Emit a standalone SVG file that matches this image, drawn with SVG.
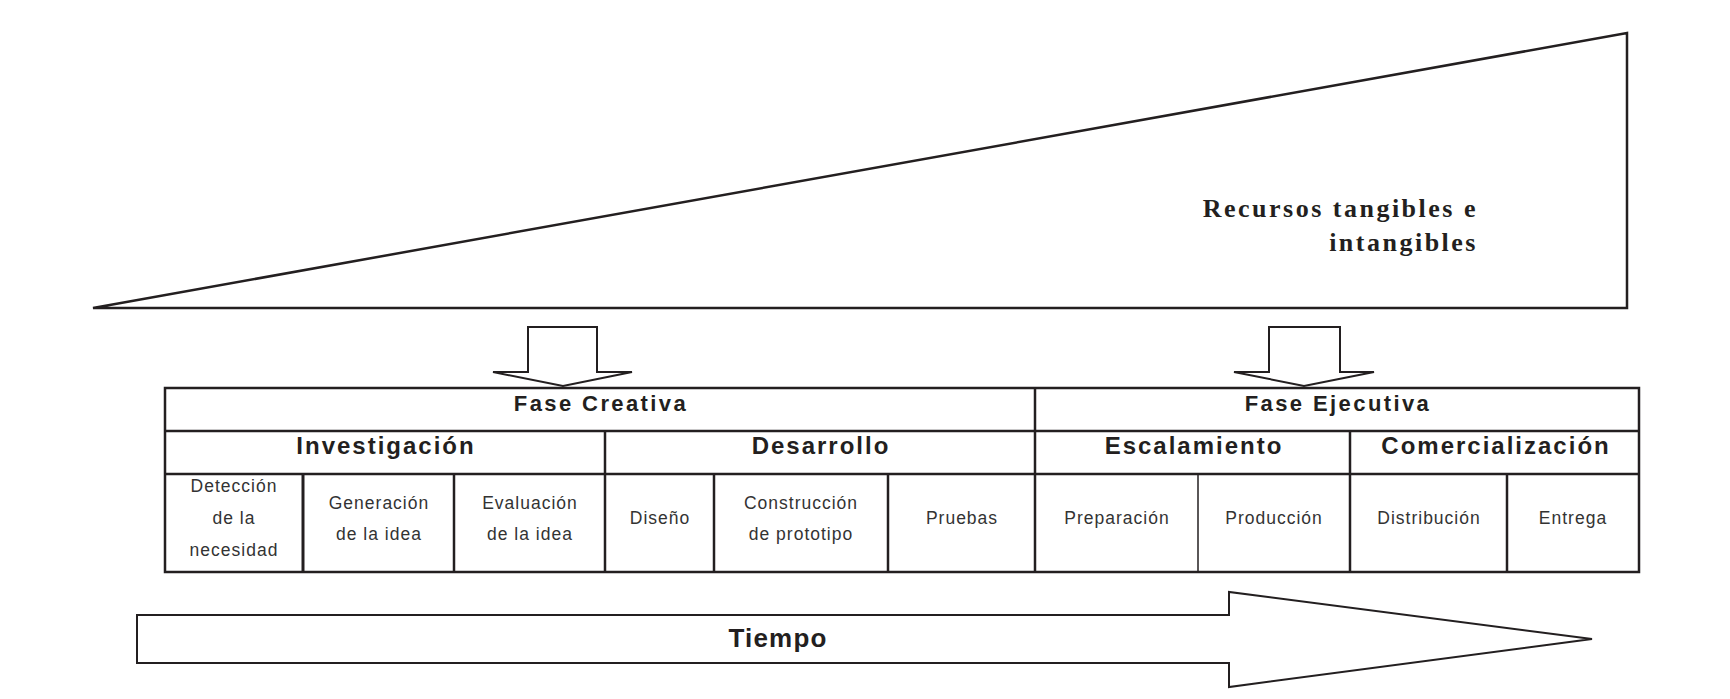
<svg xmlns="http://www.w3.org/2000/svg" width="1730" height="699" viewBox="0 0 1730 699">
<style>
.ln{fill:#fff;stroke:#231f20;stroke-width:2.5;stroke-linejoin:miter}
.ar{fill:#fff;stroke:#231f20;stroke-width:2}
.grid{stroke:#231f20;stroke-width:2.5;fill:none}
.res{font-family:"Liberation Serif",serif;font-weight:bold;font-size:26px;letter-spacing:2.5px;fill:#231f20;text-anchor:end}
.h1{font-family:"Liberation Sans",Arial,sans-serif;font-weight:bold;font-size:22px;letter-spacing:2.4px;fill:#231f20;text-anchor:middle}
.h2{font-family:"Liberation Sans",Arial,sans-serif;font-weight:bold;font-size:24px;letter-spacing:2px;fill:#231f20;text-anchor:middle}
.c{font-family:"Liberation Sans",Arial,sans-serif;font-size:17.5px;letter-spacing:1px;fill:#333;text-anchor:middle}
.t{font-family:"Liberation Sans",Arial,sans-serif;font-weight:bold;font-size:26px;letter-spacing:1.2px;fill:#231f20;text-anchor:middle}
</style>
<rect width="1730" height="699" fill="#fff"/>
<g id="recursos">
<polygon class="ln" points="93,308 1627,33 1627,308"/>
<text class="res" x="1478" y="217">Recursos tangibles e</text>
<text class="res" x="1478" y="251">intangibles</text>
</g>
<g id="connectors">
<polygon class="ar" points="528,327 597,327 597,372 632,372 563,386 493,372 528,372"/>
<polygon class="ar" points="1269,327 1340,327 1340,372 1374,372 1304,386 1234,372 1269,372"/>
</g>
<g id="tabla">
<rect class="grid" x="165" y="388" width="1474" height="184"/>
<line class="grid" x1="165" y1="431" x2="1639" y2="431"/>
<line class="grid" x1="165" y1="474" x2="1639" y2="474"/>
<line class="grid" x1="1035" y1="388" x2="1035" y2="572"/>
<line class="grid" x1="605" y1="431" x2="605" y2="572"/>
<line class="grid" x1="1350" y1="431" x2="1350" y2="572"/>
<line class="grid" x1="303" y1="474" x2="303" y2="572" style="stroke-width:3"/>
<line class="grid" x1="454" y1="474" x2="454" y2="572"/>
<line class="grid" x1="714" y1="474" x2="714" y2="572"/>
<line class="grid" x1="888" y1="474" x2="888" y2="572"/>
<line class="grid" x1="1198" y1="474" x2="1198" y2="572" style="stroke-width:1.5"/>
<line class="grid" x1="1507" y1="474" x2="1507" y2="572"/>
</g>
<g id="fase-creativa"><text class="h1" x="601" y="411">Fase Creativa</text></g>
<g id="fase-ejecutiva"><text class="h1" x="1338" y="411">Fase Ejecutiva</text></g>
<g id="investigacion"><text class="h2" x="386" y="454">Investigación</text></g>
<g id="desarrollo"><text class="h2" x="821" y="454">Desarrollo</text></g>
<g id="escalamiento"><text class="h2" x="1194" y="454">Escalamiento</text></g>
<g id="comercializacion"><text class="h2" x="1496" y="454">Comercialización</text></g>
<g id="deteccion"><text class="c" x="234" y="492">Detección</text><text class="c" x="234" y="524">de la</text><text class="c" x="234" y="556">necesidad</text></g>
<g id="generacion"><text class="c" x="379" y="509">Generación</text><text class="c" x="379" y="540">de la idea</text></g>
<g id="evaluacion"><text class="c" x="530" y="509">Evaluación</text><text class="c" x="530" y="540">de la idea</text></g>
<g id="diseno"><text class="c" x="660" y="524">Diseño</text></g>
<g id="construccion"><text class="c" x="801" y="509">Construcción</text><text class="c" x="801" y="540">de prototipo</text></g>
<g id="pruebas"><text class="c" x="962" y="524">Pruebas</text></g>
<g id="preparacion"><text class="c" x="1117" y="524">Preparación</text></g>
<g id="produccion"><text class="c" x="1274" y="524">Producción</text></g>
<g id="distribucion"><text class="c" x="1429" y="524">Distribución</text></g>
<g id="entrega"><text class="c" x="1573" y="524">Entrega</text></g>
<g id="tiempo">
<polygon class="ar" points="137,615 1229,615 1229,592 1592,639 1229,687 1229,663 137,663"/>
<text class="t" x="778" y="647">Tiempo</text>
</g>
</svg>
